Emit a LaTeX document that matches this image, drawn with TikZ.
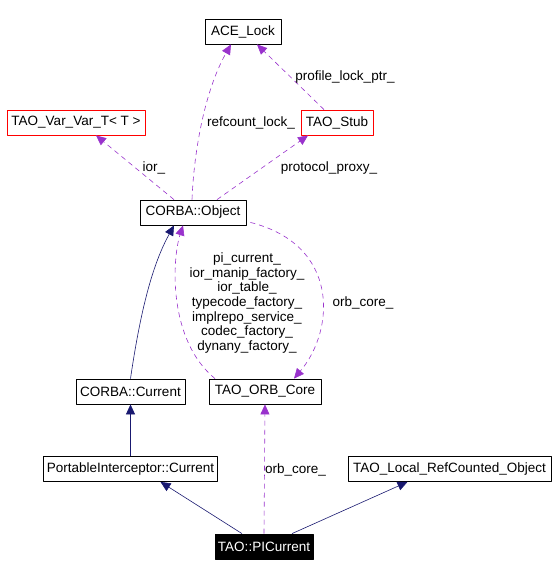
\documentclass[tikz,border=0pt]{standalone}
\usepackage{fontspec}
\setmainfont{Liberation Sans}
\usetikzlibrary{arrows.meta}
\definecolor{navyedge}{RGB}{25,25,112}
\definecolor{memberedge}{RGB}{153,50,204}
\begin{document}
\begin{tikzpicture}[x=1pt, y=-1pt, font=\fontsize{13.5}{14.7}\selectfont, line join=round,
	cls/.style={draw, line width=0.8pt, minimum height=25pt, inner xsep=3pt, inner ysep=0pt},
	redcls/.style={cls, draw=red},
	inh/.style={-{Triangle[length=10pt,width=9pt,fill=navyedge]}, draw=navyedge, line width=0.6pt},
	dep/.style={-{Triangle[length=10pt,width=9pt,fill=memberedge]}, draw=memberedge, line width=0.6pt, dash pattern=on 5pt off 4pt},
	lbl/.style={inner sep=0pt}]
	\useasboundingbox (0,0) rectangle (556,576);
	% classes
	\node[cls, minimum width=76pt] (ace) at (243,31.5) {ACE\_Lock};
	\node[redcls, minimum width=138pt] (var) at (76,122.5) {TAO\_Var\_Var\_T< T >};
	\node[redcls, minimum width=72pt] (stub) at (337,122.5) {TAO\_Stub};
	\node[cls, minimum width=106pt] (obj) at (193,212.5) {CORBA::Object};
	\node[cls, minimum width=109pt] (cur) at (130.5,391.5) {CORBA::Current};
	\node[cls, minimum width=112pt] (orb) at (265,391.5) {TAO\_ORB\_Core};
	\node[cls, minimum width=173pt] (pic) at (130.5,469) {PortableInterceptor::Current};
	\node[cls, minimum width=203pt] (local) at (449.5,469) {TAO\_Local\_RefCounted\_Object};
	\node[cls, minimum width=98pt, fill=black, text=white] (tpc) at (264,546.5) {TAO::PICurrent};
	% members
	\draw[dep] ([xshift=-1pt]obj.north) .. controls (194,150) and (205,90) .. ([xshift=-12pt]ace.south);
	\node[lbl] (lrefcount) at (251,123) {refcount\_lock\_};
	\draw[dep] ([xshift=-13pt]stub.north) -- ([xshift=14pt]ace.south);
	\node[lbl] (lprofile) at (345,77) {profile\_lock\_ptr\_};
	\draw[dep] ([xshift=-19pt]obj.north) -- ([xshift=20pt]var.south);
	\node[lbl] (lior) at (154,168) {ior\_};
	\draw[dep] ([xshift=24pt]obj.north) -- ([xshift=-29pt]stub.south);
	\node[lbl] (lproxy) at (329,168) {protocol\_proxy\_};
	\draw[dep] ([xshift=-50pt]orb.north) .. controls (168,340) and (172,260) .. ([xshift=-10pt]obj.south);
	\node[lbl, align=center] (lfactories) at (247,303)
		{pi\_current\_\\ior\_manip\_factory\_\\ior\_table\_\\typecode\_factory\_\\implrepo\_service\_\\codec\_factory\_\\dynany\_factory\_};
	\draw[dep] ([xshift=4pt,yshift=3pt]obj.south east) .. controls (340,245) and (335,330) .. ([xshift=29pt]orb.north);
	\node[lbl] (lorbcore) at (363,303) {orb\_core\_};
	\draw[dep] (tpc.north) -- (orb.south);
	\node[lbl, anchor=west] (lorbcoretwo) at (265,470) {orb\_core\_};
	% bases
	\draw[inh] (cur.north) .. controls (142,300) and (155,260) .. ([xshift=-19pt]obj.south);
	\draw[inh] (pic.north) -- (cur.south);
	\draw[inh] ([xshift=-22pt]tpc.north) -- ([xshift=30pt]pic.south);
	\draw[inh] ([xshift=28pt]tpc.north) -- ([xshift=-42pt]local.south);
\end{tikzpicture}
\end{document}
